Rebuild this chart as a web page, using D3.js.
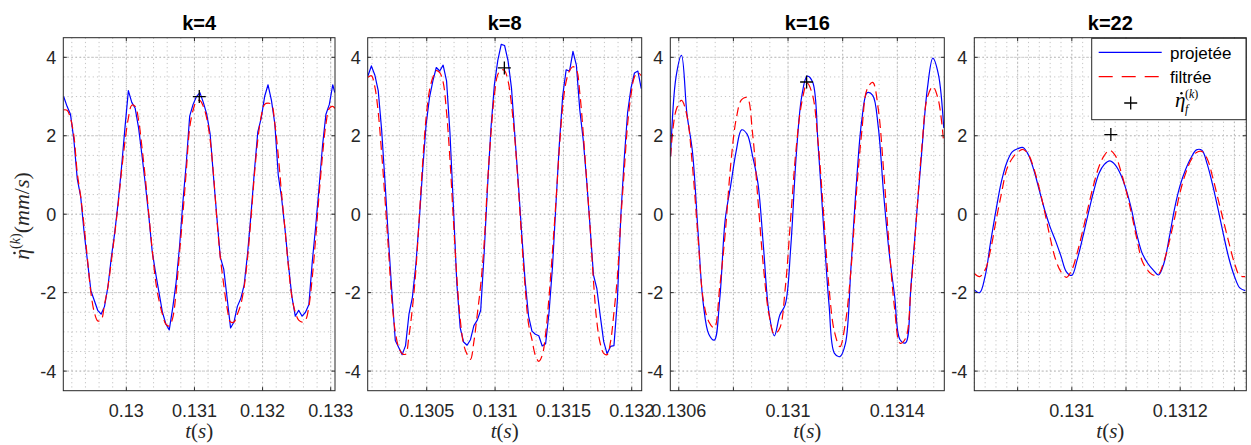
<!DOCTYPE html>
<html><head><meta charset="utf-8">
<script src="https://cdn.jsdelivr.net/npm/d3@7"></script>
<style>body{margin:0;background:#fff}svg{display:block}</style>
</head><body>
<svg id="c" width="1251" height="445"></svg>
<script>
// ---------------- DATA ----------------
const titles = ["k=4", "k=8", "k=16", "k=22"];

const t1 = [0.12908,0.12913,0.12918,0.12923,0.12928,0.12933,0.12938,0.12943,0.12948,0.12953,
0.12958,0.12963,0.12968,0.12973,0.12978,0.12983,0.12988,0.12993,0.12998,0.13003,
0.13008,0.13013,0.13018,0.13023,0.13028,0.13033,0.13038,0.13043,0.13048,0.13053,
0.13058,0.13063,0.13068,0.13073,0.13078,0.13083,0.13088,0.13093,0.13098,0.13103,
0.13108,0.13113,0.13118,0.13123,0.13128,0.13133,0.13138,0.13143,0.13148,0.13153,
0.13158,0.13163,0.13168,0.13173,0.13178,0.13183,0.13188,0.13193,0.13198,0.13203,
0.13208,0.13213,0.13218,0.13223,0.13228,0.13233,0.13238,0.13243,0.13248,0.13253,
0.13258,0.13263,0.13268,0.13273,0.13278,0.13283,0.13288,0.13293,0.13298,0.13303,0.13306];
const proj1 = [3.0,2.75,2.55,1.9,0.9,0.45,-0.45,-1.2,-1.95,-2.2,
-2.45,-2.55,-2.35,-1.85,-1.1,-0.47,0.3,1.2,2.2,3.15,
2.85,2.7,2.2,1.5,0.75,-0.05,-0.95,-1.5,-2.0,-2.5,
-2.8,-2.95,-2.4,-1.75,-0.85,0.3,1.3,2.5,2.8,3.0,
3.1,2.85,2.55,2.05,0.95,-0.1,-1.1,-1.4,-2.15,-2.9,
-2.75,-2.35,-2.15,-1.8,-1.0,0.0,1.1,2.1,2.45,3.0,
3.3,2.9,2.3,1.0,0.4,-0.4,-1.3,-2.1,-2.6,-2.45,
-2.6,-2.5,-2.3,-1.2,-0.3,0.7,1.75,2.55,2.8,3.3,3.1];
const filt1 = [2.66,2.65,2.45,2.0,1.05,0.45,-0.3,-1.15,-2.0,-2.5,
-2.72,-2.7,-2.3,-1.85,-1.2,-0.5,0.25,1.1,1.85,2.45,
2.78,2.75,2.4,1.7,0.9,0.0,-0.9,-1.7,-2.2,-2.55,
-2.8,-2.85,-2.65,-2.0,-1.0,0.0,1.1,2.2,2.65,2.88,
2.9,2.75,2.45,1.9,1.0,-0.15,-1.1,-1.8,-2.4,-2.75,
-2.75,-2.55,-2.3,-1.85,-1.1,-0.1,1.0,1.9,2.5,2.8,
2.83,2.8,2.3,1.5,0.5,-0.4,-1.35,-2.1,-2.5,-2.7,
-2.75,-2.7,-2.35,-1.6,-0.6,0.5,1.5,2.3,2.7,2.75,2.7];

const t2 = [0.130070,0.130095,0.130120,0.130145,0.130170,0.130195,0.130220,0.130245,0.130270,0.130295,
0.130320,0.130345,0.130370,0.130395,0.130420,0.130445,0.130470,0.130495,0.130520,0.130545,
0.130570,0.130595,0.130620,0.130645,0.130670,0.130695,0.130720,0.130745,0.130770,0.130795,
0.130820,0.130845,0.130870,0.130895,0.130920,0.130945,0.130970,0.130995,0.131020,0.131045,
0.131070,0.131095,0.131120,0.131145,0.131170,0.131195,0.131220,0.131245,0.131270,0.131295,
0.131320,0.131345,0.131370,0.131395,0.131420,0.131445,0.131470,0.131495,0.131520,0.131545,
0.131570,0.131595,0.131620,0.131645,0.131670,0.131695,0.131720,0.131745,0.131770,0.131795,
0.131820,0.131845,0.131870,0.131895,0.131920,0.131945,0.131970,0.131995,0.132020,0.132045,0.132070];
const proj2 = [3.53,3.78,3.55,3.15,2.15,0.8,-0.65,-2.0,-3.22,-3.4,
-3.58,-3.35,-2.55,-2.12,-1.3,-0.17,1.12,2.27,2.97,3.4,
3.74,3.65,3.8,3.4,2.07,0.2,-1.76,-2.9,-3.26,-3.34,
-3.2,-2.84,-2.7,-2.45,-1.0,0.7,2.2,3.3,3.92,4.33,
4.3,3.91,3.22,2.0,0.8,-0.5,-1.7,-2.6,-2.98,-3.06,
-3.1,-3.36,-3.3,-2.5,-1.35,0.23,1.77,3.02,3.68,3.65,
4.15,3.8,2.66,1.9,0.88,-0.31,-1.55,-1.9,-2.6,-3.25,
-3.56,-3.37,-3.35,-2.19,-0.05,1.4,2.6,3.22,3.6,3.65,3.2];
const filt2 = [3.49,3.53,3.25,2.6,1.56,0.37,-0.9,-2.2,-3.0,-3.4,
-3.55,-3.57,-3.1,-2.4,-1.45,-0.1,1.3,2.45,3.15,3.49,
3.66,3.61,3.37,2.6,1.39,-0.14,-1.59,-2.68,-3.32,-3.57,
-3.7,-3.25,-2.55,-1.8,-0.75,0.8,2.05,3.04,3.56,3.68,
3.66,3.4,2.8,1.9,0.7,-0.65,-1.85,-2.8,-3.2,-3.6,
-3.75,-3.6,-3.05,-2.1,-0.95,0.3,1.65,2.75,3.38,3.66,
3.76,3.69,3.09,2.07,0.88,-0.31,-1.7,-2.75,-3.3,-3.55,
-3.58,-3.25,-2.5,-1.6,-0.15,1.1,2.3,3.05,3.5,3.61,3.53];

const t3 = [0.13057,0.13059,0.13061,0.13063,0.13065,0.13067,0.13069,0.13071,0.13073,0.13075,
0.13077,0.13079,0.13081,0.13083,0.13085,0.13087,0.13089,0.13091,0.13093,0.13095,
0.13097,0.13099,0.13101,0.13103,0.13105,0.13107,0.13109,0.13111,0.13113,0.13115,
0.13117,0.13119,0.13121,0.13123,0.13125,0.13127,0.13129,0.13131,0.13133,0.13135,
0.13137,0.13139,0.13141,0.13143,0.13145,0.13147,0.13149,0.13151,0.13153,0.13155,0.13157];
const proj3 = [1.47,3.5,4.05,2.55,1.6,-0.4,-2.3,-3.06,-3.21,-2.16,
-0.14,0.73,1.6,2.15,2.04,1.49,0.78,-0.83,-2.5,-3.1,
-2.57,-2.3,-0.83,1.5,3.0,3.52,3.37,1.77,-0.31,-2.3,
-3.55,-3.63,-3.3,-1.4,0.76,2.4,3.1,3.03,2.24,0.51,
-0.97,-2.08,-3.2,-3.28,-1.82,-0.08,1.64,3.2,3.98,3.58,2.2];
const filt3 = [1.47,2.65,2.9,2.51,1.24,-0.55,-2.19,-2.74,-2.9,-1.85,
-0.49,1.25,2.42,2.92,2.97,2.07,0.35,-1.34,-2.55,-3.06,
-2.9,-1.87,-0.07,1.7,2.84,3.34,3.03,1.83,0.03,-1.88,
-3.0,-3.38,-2.77,-1.44,0.51,2.11,3.2,3.36,2.7,1.1,
-0.81,-2.4,-3.29,-3.17,-1.88,-0.09,1.73,2.98,3.25,2.92,1.8];

const t4 = [0.13082,0.13083,0.13084,0.13085,0.13086,0.13087,0.13088,0.13089,0.13090,0.13091,
0.13092,0.13093,0.13094,0.13095,0.13096,0.13097,0.13098,0.13099,0.13100,0.13101,
0.13102,0.13103,0.13104,0.13105,0.13106,0.13107,0.13108,0.13109,0.13110,0.13111,
0.13112,0.13113,0.13114,0.13115,0.13116,0.13117,0.13118,0.13119,0.13120,0.13121,
0.13122,0.13123,0.13124,0.13125,0.13126,0.13127,0.13128,0.13129,0.13130,0.13131,0.13132];
const proj4 = [-1.93,-2.0,-1.58,-0.72,0.1,0.83,1.32,1.59,1.67,1.7,
1.51,1.12,0.61,0.1,-0.33,-0.68,-1.07,-1.47,-1.56,-1.15,
-0.6,0.0,0.57,1.04,1.27,1.36,1.26,1.02,0.64,0.13,
-0.52,-1.0,-1.25,-1.42,-1.55,-1.25,-0.58,0.17,0.74,1.14,
1.44,1.64,1.63,1.27,0.74,0.12,-0.53,-1.13,-1.58,-1.88,-1.95];
const filt4 = [-1.51,-1.59,-1.42,-0.91,-0.17,0.52,1.15,1.42,1.58,1.65,
1.52,1.16,0.66,0.05,-0.6,-1.15,-1.47,-1.61,-1.42,-0.98,
-0.43,0.17,0.74,1.21,1.5,1.63,1.5,1.12,0.61,0.02,
-0.63,-1.2,-1.43,-1.55,-1.53,-1.2,-0.69,-0.08,0.57,1.04,
1.38,1.57,1.6,1.41,0.94,0.38,-0.18,-0.73,-1.24,-1.57,-1.59];

// "+" markers (eta_f^(k)) per panel
const markT = [0.131071, 0.131068, 0.131068, 0.131072];
const markV = [3.0, 3.73, 3.37, 2.03];

// axis limits and ticks
const xLim1 = [0.129075, 0.133063], xLim2 = [0.130068, 0.132073], xLim3 = [0.130569, 0.131572], xLim4 = [0.13082, 0.131322];
const yLim = [-4.5, 4.5];
const xTicks1 = [0.13, 0.131, 0.132, 0.133], xTickLabels1 = ["0.13", "0.131", "0.132", "0.133"];
const xTicks2 = [0.1305, 0.131, 0.1315, 0.132], xTickLabels2 = ["0.1305", "0.131", "0.1315", "0.132"];
const xTicks3 = [0.1306, 0.1308, 0.131, 0.1312, 0.1314], xTickLabels3 = ["0.1306", "", "0.131", "", "0.1314"];
const xTicks4 = [0.1309, 0.131, 0.1311, 0.1312, 0.1313], xTickLabels4 = ["", "0.131", "", "0.1312", ""];
const yTicks = [-4, -2, 0, 2, 4], yTickLabels = ["-4", "-2", "0", "2", "4"];
const legendLabels = ["projetée", "filtrée"];

// ---------------- DRAW ----------------
const svg = d3.select("#c");
const TOP = 37.7, BOT = 390.7;
const AX = "#262626";
const SANS = "'Liberation Sans', Arial, Helvetica, sans-serif";
const SERIF = "'Liberation Serif', 'DejaVu Serif', serif";

const panels = [
  {x0: 63.3, x1: 335, lim: xLim1, t: t1, p: proj1, f: filt1, ticks: xTicks1, labels: xTickLabels1, minor: 0.0002, curveB: d3.curveLinear},
  {x0: 367.7, x1: 641.7, lim: xLim2, t: t2, p: proj2, f: filt2, ticks: xTicks2, labels: xTickLabels2, minor: 0.0001, curveB: d3.curveLinear},
  {x0: 670.3, x1: 944.3, lim: xLim3, t: t3, p: proj3, f: filt3, ticks: xTicks3, labels: xTickLabels3, minor: 0.0002/3, curveB: d3.curveCatmullRom},
  {x0: 974.3, x1: 1246.3, lim: xLim4, t: t4, p: proj4, f: filt4, ticks: xTicks4, labels: xTickLabels4, minor: 0.00002, curveB: d3.curveCatmullRom}
];

function steps(a, b, s) {
  const out = [];
  const k0 = Math.ceil(a / s - 1e-7), k1 = Math.floor(b / s + 1e-7);
  for (let k = k0; k <= k1; k++) out.push(k * s);
  return out;
}

// put a dot accent over character 0 of a text element
function dotOver(textSel, parent, r) {
  const e = textSel.node().getExtentOfChar(0);
  parent.append("circle").attr("cx", e.x + e.width * 0.62).attr("cy", e.y + e.height * 0.22)
    .attr("r", r).attr("fill", textSel.attr("fill") || "#000");
}

const y = d3.scaleLinear().domain(yLim).range([BOT, TOP]);

panels.forEach((P, i) => {
  const x = d3.scaleLinear().domain(P.lim).range([P.x0, P.x1]);
  const g = svg.append("g");
  g.append("rect").attr("x", P.x0).attr("y", TOP).attr("width", P.x1 - P.x0).attr("height", BOT - TOP).attr("fill", "#fff");

  // grid (minor + major, dotted)
  const grid = g.append("g").attr("stroke", "#c4c4c4").attr("stroke-width", 1).attr("stroke-dasharray", "1.2,3");
  steps(P.lim[0], P.lim[1], P.minor).forEach(v => {
    grid.append("line").attr("x1", x(v)).attr("x2", x(v)).attr("y1", TOP).attr("y2", BOT);
  });
  steps(yLim[0] + 0.01, yLim[1] - 0.01, 0.5).forEach(v => {
    grid.append("line").attr("x1", P.x0).attr("x2", P.x1).attr("y1", y(v)).attr("y2", y(v));
  });
  const gridM = g.append("g").attr("stroke", "#b8b8b8").attr("stroke-width", 1).attr("stroke-dasharray", "1.5,2.5");
  P.ticks.forEach(v => gridM.append("line").attr("x1", x(v)).attr("x2", x(v)).attr("y1", TOP).attr("y2", BOT));
  yTicks.forEach(v => gridM.append("line").attr("x1", P.x0).attr("x2", P.x1).attr("y1", y(v)).attr("y2", y(v)));

  // clip
  const cid = "clip" + i;
  svg.append("clipPath").attr("id", cid).append("rect")
    .attr("x", P.x0).attr("y", TOP).attr("width", P.x1 - P.x0).attr("height", BOT - TOP);
  const plot = g.append("g").attr("clip-path", `url(#${cid})`);

  const idx = d3.range(P.t.length);
  const lineB = d3.line().x(j => x(P.t[j])).y(j => y(P.p[j])).curve(P.curveB);
  const lineR = d3.line().x(j => x(P.t[j])).y(j => y(P.f[j])).curve(d3.curveCatmullRom);
  plot.append("path").attr("d", lineB(idx)).attr("fill", "none").attr("stroke", "#0000ff").attr("stroke-width", 1.2).attr("stroke-linejoin", "round");
  plot.append("path").attr("d", lineR(idx)).attr("fill", "none").attr("stroke", "#ff0000").attr("stroke-width", 1.2).attr("stroke-dasharray", "9,5");

  // marker
  const mx = x(markT[i]), my = y(markV[i]);
  plot.append("path").attr("d", `M${mx - 6.5},${my}H${mx + 6.5}M${mx},${my - 6.5}V${my + 6.5}`)
    .attr("stroke", "#000").attr("stroke-width", 1.3);

  // box
  g.append("rect").attr("x", P.x0).attr("y", TOP).attr("width", P.x1 - P.x0).attr("height", BOT - TOP)
    .attr("fill", "none").attr("stroke", AX).attr("stroke-width", 1);

  // ticks
  const tk = g.append("g").attr("stroke", AX).attr("stroke-width", 1);
  P.ticks.forEach(v => {
    tk.append("line").attr("x1", x(v)).attr("x2", x(v)).attr("y1", BOT).attr("y2", BOT - 3.5);
    tk.append("line").attr("x1", x(v)).attr("x2", x(v)).attr("y1", TOP).attr("y2", TOP + 3.5);
  });
  yTicks.forEach(v => {
    tk.append("line").attr("x1", P.x0).attr("x2", P.x0 + 3.5).attr("y1", y(v)).attr("y2", y(v));
    tk.append("line").attr("x1", P.x1).attr("x2", P.x1 - 3.5).attr("y1", y(v)).attr("y2", y(v));
  });

  // tick labels
  P.ticks.forEach((v, k) => {
    if (!P.labels[k]) return;
    g.append("text").attr("x", x(v)).attr("y", BOT + 26).attr("text-anchor", "middle")
      .attr("font-family", SANS).attr("font-size", 18).attr("fill", AX).text(P.labels[k]);
  });
  yTicks.forEach((v, k) => {
    g.append("text").attr("x", P.x0 - 7).attr("y", y(v) + 6.5).attr("text-anchor", "end")
      .attr("font-family", SANS).attr("font-size", 18).attr("fill", AX).text(yTickLabels[k]);
  });

  // title
  g.append("text").attr("x", (P.x0 + P.x1) / 2).attr("y", 29.5).attr("text-anchor", "middle")
    .attr("font-family", SANS).attr("font-size", 20).attr("font-weight", "bold").attr("fill", "#000").text(titles[i]);

  // x label t(s)
  const xl = g.append("text").attr("x", (P.x0 + P.x1) / 2).attr("y", 438).attr("text-anchor", "middle")
    .attr("font-family", SERIF).attr("font-size", 21).attr("fill", AX);
  xl.append("tspan").attr("font-style", "italic").text("t");
  xl.append("tspan").text("(");
  xl.append("tspan").attr("font-style", "italic").text("s");
  xl.append("tspan").text(")");
});

// y label
const ylg = svg.append("g").attr("transform", "translate(29,216) rotate(-90)");
const yl = ylg.append("text").attr("text-anchor", "middle")
  .attr("font-family", SERIF).attr("font-size", 22).attr("fill", AX);
yl.append("tspan").attr("font-style", "italic").text("\u03B7");
yl.append("tspan").attr("font-size", 14).attr("dy", -9).text("(");
yl.append("tspan").attr("font-size", 14).attr("font-style", "italic").text("k");
yl.append("tspan").attr("font-size", 14).text(")");
yl.append("tspan").attr("dy", 9).text("(");
yl.append("tspan").attr("font-style", "italic").text("mm");
yl.append("tspan").text("/");
yl.append("tspan").attr("font-style", "italic").text("s");
yl.append("tspan").text(")");
dotOver(yl, ylg, 1.3);

// legend
const L = svg.append("g");
L.append("rect").attr("x", 1091.7).attr("y", 38.3).attr("width", 154.3).attr("height", 81.4)
  .attr("fill", "#fff").attr("stroke", AX).attr("stroke-width", 1);
L.append("line").attr("x1", 1098.7).attr("x2", 1161.7).attr("y1", 52.3).attr("y2", 52.3)
  .attr("stroke", "#0000ff").attr("stroke-width", 1.2);
L.append("line").attr("x1", 1098.7).attr("x2", 1161.7).attr("y1", 76.7).attr("y2", 76.7)
  .attr("stroke", "#ff0000").attr("stroke-width", 1.2).attr("stroke-dasharray", "14,9");
L.append("path").attr("d", "M1124.2,103H1137.2M1130.7,96.5V109.5").attr("stroke", "#000").attr("stroke-width", 1.3);
L.append("text").attr("x", 1170).attr("y", 58.5).attr("font-family", SANS).attr("font-size", 17).attr("fill", "#000").text(legendLabels[0]);
L.append("text").attr("x", 1170).attr("y", 82.5).attr("font-family", SANS).attr("font-size", 17).attr("fill", "#000").text(legendLabels[1]);
const leta = L.append("text").attr("x", 1175).attr("y", 107).attr("font-family", SERIF).attr("font-style", "italic").attr("font-size", 21).attr("fill", "#000").text("\u03B7");
dotOver(leta, L, 1.2);
L.append("text").attr("x", 1185).attr("y", 113).attr("font-family", SERIF).attr("font-style", "italic").attr("font-size", 12).attr("fill", "#000").text("f");
const sup = L.append("text").attr("x", 1185).attr("y", 98).attr("font-family", SERIF).attr("font-size", 12).attr("fill", "#000");
sup.append("tspan").text("(");
sup.append("tspan").attr("font-style", "italic").text("k");
sup.append("tspan").text(")");
</script>
</body></html>
